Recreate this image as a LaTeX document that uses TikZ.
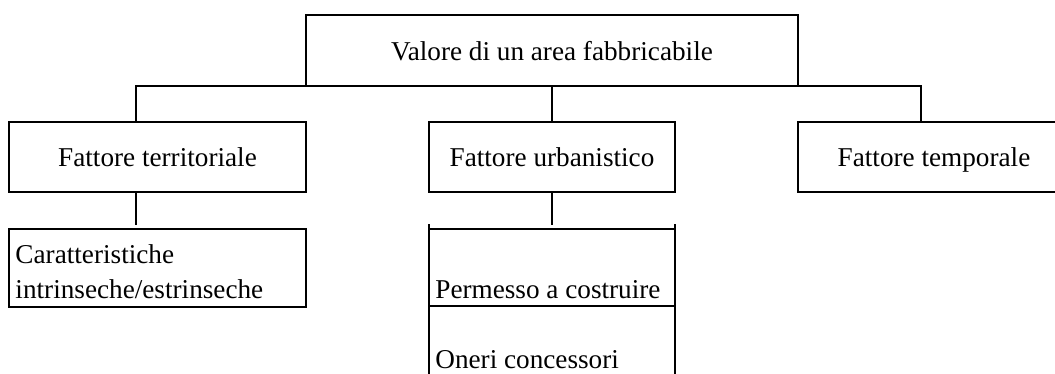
\documentclass[tikz,border=0pt]{standalone}
\usepackage{fontspec}
\setmainfont{Liberation Serif}

\begin{document}
\begin{tikzpicture}[x=0.5pt, y=-0.5pt, font=\fontsize{13.6}{17.5}\selectfont,
  box/.style={draw, line width=0.8pt, inner sep=0pt},
  onerow/.style={text height=13pt, text depth=3pt},
  link/.style={line width=1pt}]

\useasboundingbox (0,0) rectangle (1055,374);

\node[box, onerow, minimum width=246pt, minimum height=35.5pt] (valore) at (552,50.5) {Valore di un area fabbricabile};

\node[box, onerow, minimum width=148.5pt, minimum height=35pt] (terr) at (157.5,157) {Fattore territoriale};
\node[box, onerow, minimum width=123pt, minimum height=35pt] (urb) at (552,157) {Fattore urbanistico};
\node[box, onerow, minimum width=136pt, minimum height=35pt] (temp) at (934,157) {Fattore temporale};

\node[box, minimum width=148.5pt, minimum height=39pt, text width=142pt, align=left,
  text height=15pt, text depth=20pt] (carat) at (157.5,268) {Caratteristiche\\intrinseche/estrinseche};

\node[anchor=base west, inner sep=0pt] (perm) at (435,298) {Permesso a costruire};
\node[anchor=base west, inner sep=0pt] (oneri) at (435,368) {Oneri concessori};

\coordinate (jl) at (136,86);
\coordinate (jr) at (921,86);
\coordinate (cl) at (136,225);
\coordinate (cm) at (552,225);

\draw[link] (jl |- terr.north) -- (jl) -- (jr) -- (jr |- temp.north);
\draw[link] (valore.south) -- (urb.north);
\draw[link] (terr.south -| cl) -- (cl);
\draw[link] (urb.south) -- (cm);

\coordinate (ul) at (429,224);
\coordinate (ur) at (675,224);
\coordinate (dl) at (429,376);
\coordinate (dr) at (675,376);
\coordinate (pl) at (429,229);
\coordinate (pr) at (675,229);
\coordinate (ql) at (429,306);
\coordinate (qr) at (675,306);

\draw[link] (ul) -- (dl);
\draw[link] (ur) -- (dr);
\draw[line width=0.8pt] (pl) -- (pr);
\draw[line width=0.8pt] (ql) -- (qr);

\end{tikzpicture}
\end{document}
